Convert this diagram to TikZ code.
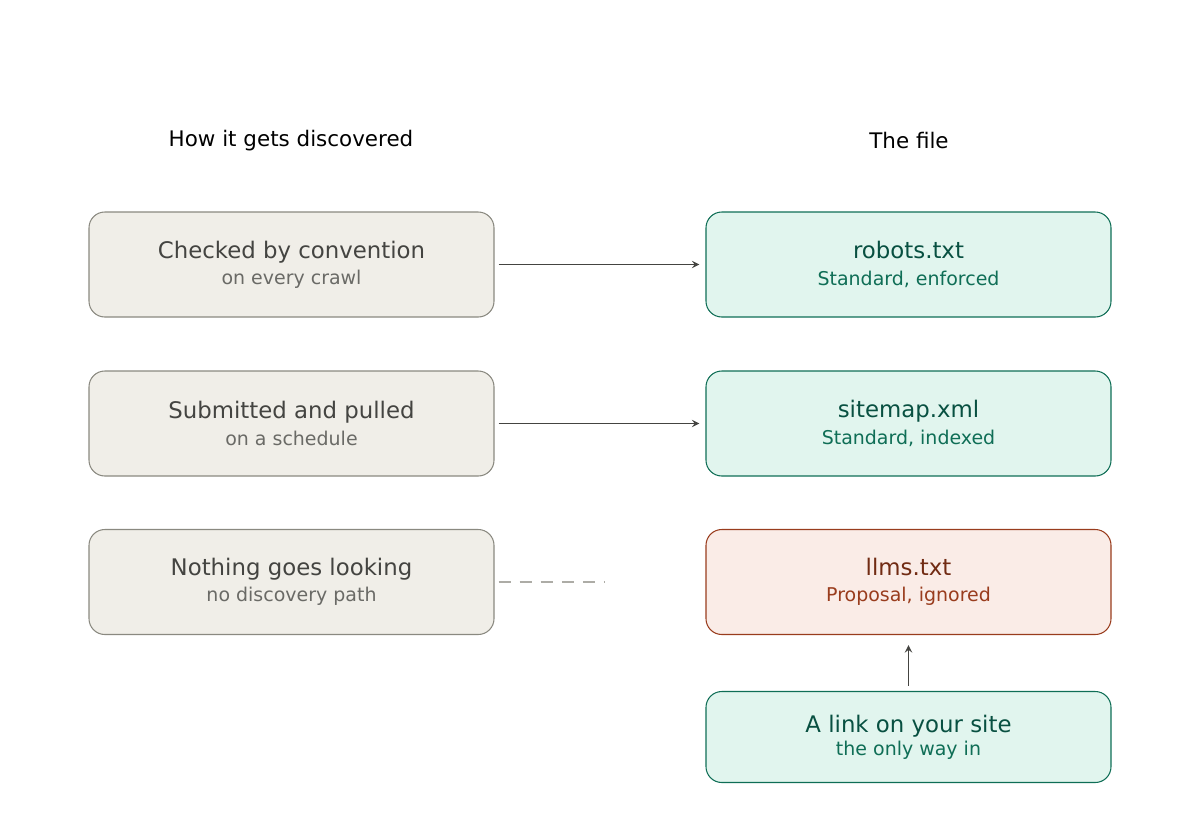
\documentclass[tikz,border=0pt]{standalone}
\usepackage{fontspec}
\setmainfont{DejaVu Sans}
\usetikzlibrary{positioning}
\definecolor{greyfill}{HTML}{F0EEE8}
\definecolor{greyline}{HTML}{8A8980}
\definecolor{greyhead}{HTML}{444441}
\definecolor{greysub}{HTML}{6A6A66}
\definecolor{greenfill}{HTML}{E1F5EE}
\definecolor{greenline}{HTML}{0F6E56}
\definecolor{greenhead}{HTML}{085041}
\definecolor{redfill}{HTML}{FAECE7}
\definecolor{redline}{HTML}{993C1D}
\definecolor{redhead}{HTML}{712B13}
\tikzset{
  box/.style={draw, rounded corners=9pt, line width=0.6pt, minimum width=405*0.02cm, align=center, inner sep=0pt},
  grey/.style={box, fill=greyfill, draw=greyline},
  green/.style={box, fill=greenfill, draw=greenline},
  red/.style={box, fill=redfill, draw=redline},
  head/.style={font=\fontsize{12.2}{14}\selectfont},
  link/.style={->, >=stealth, line width=0.9pt, draw=greyhead},
}
\newcommand{\boxtext}[3]{{\fontsize{13}{16}\selectfont\color{#1}#2}\\[2pt]{\fontsize{10.8}{13}\selectfont\color{greysub!0!#1}#3}}
\begin{document}
\begin{tikzpicture}[x=0.02cm, y=-0.02cm]
  \useasboundingbox (0,0) rectangle (1200,829);
  \node [head] (hleft) at (291,141) {How it gets discovered};
  \node [head] (hright) at (909,141) {The file};
  % left column
  \node [grey, minimum height=105*0.02cm] (crawl) at (291.5,264.5) {{\fontsize{13}{16}\selectfont\color{greyhead}Checked by convention}\\[3pt]{\fontsize{10.8}{13}\selectfont\color{greysub}on every crawl}};
  \node [grey, minimum height=105*0.02cm] (pull) at (291.5,423.5) {{\fontsize{13}{16}\selectfont\color{greyhead}Submitted and pulled}\\[3pt]{\fontsize{10.8}{13}\selectfont\color{greysub}on a schedule}};
  \node [grey, minimum height=105*0.02cm] (none) at (291.5,582) {{\fontsize{13}{16}\selectfont\color{greyhead}Nothing goes looking}\\[3pt]{\fontsize{10.8}{13}\selectfont\color{greysub}no discovery path}};
  % right column
  \node [green, minimum height=105*0.02cm] (robots) at (908.5,264.5) {{\fontsize{13}{16}\selectfont\color{greenhead}robots.txt}\\[3pt]{\fontsize{10.8}{13}\selectfont\color{greenline}Standard, enforced}};
  \node [green, minimum height=105*0.02cm] (sitemap) at (908.5,423.5) {{\fontsize{13}{16}\selectfont\color{greenhead}sitemap.xml}\\[3pt]{\fontsize{10.8}{13}\selectfont\color{greenline}Standard, indexed}};
  \node [red, minimum height=105*0.02cm] (llms) at (908.5,582) {{\fontsize{13}{16}\selectfont\color{redhead}llms.txt}\\[3pt]{\fontsize{10.8}{13}\selectfont\color{redline}Proposal, ignored}};
  \node [green, minimum height=91*0.02cm] (sitelink) at (908.5,737) {{\fontsize{13}{16}\selectfont\color{greenhead}A link on your site}\\[1pt]{\fontsize{10.8}{13}\selectfont\color{greenline}the only way in}};
  % connectors
  \coordinate (gap) at (604,582);
  \draw [link] ([xshift=4*0.02cm]crawl.east) -- ([xshift=-6*0.02cm]robots.west);
  \draw [link] ([xshift=4*0.02cm]pull.east) -- ([xshift=-6*0.02cm]sitemap.west);
  \draw [dashed, draw=greyline!70, line width=0.6pt, dash pattern=on 7pt off 5pt] ([xshift=4*0.02cm]none.east) -- (gap);
  \draw [link] ([yshift=5*0.02cm]sitelink.north) -- ([yshift=-10*0.02cm]llms.south);
\end{tikzpicture}
\end{document}
